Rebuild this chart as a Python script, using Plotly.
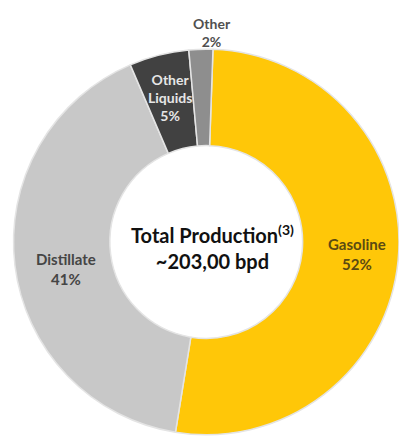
import math
import plotly.graph_objects as go

# Product mix of total refinery production
products = ["Gasoline", "Distillate", "Other<br>Liquids", "Other"]
shares = [52, 41, 5, 2]
colors = ["#FFC708", "#C8C8C8", "#414141", "#8E8E8E"]
text_colors = ["#5B4A12", "#454545", "#E6E6E6", "#505050"]

center_title = "Total Production<sup>(3)</sup>"
center_value = "~203,00 bpd"

W, H = 399, 439
CX, CY, R = 206.5, 242.0, 193.0
START = 2  # degrees clockwise from 12 o'clock

# label placement: radius as a fraction of R, and an angular nudge (deg)
label_radius = [0.78, 0.74, 0.77, 1.085]
label_nudge = [-1, -4, 0, 3]
label_sizes = [15, 15, 14, 14]

fig = go.Figure(
    go.Pie(
        labels=products,
        values=shares,
        hole=0.5,
        sort=False,
        direction="clockwise",
        rotation=START,
        marker=dict(colors=colors, line=dict(color="#E4E4E4", width=1.5)),
        textinfo="none",
        showlegend=False,
        hoverinfo="label+percent",
        domain=dict(x=[(CX - R) / W, 1], y=[1 - (CY + R) / H, 1 - (CY - R) / H]),
    )
)

# slice labels at each slice's mid-angle
total = sum(shares)
cum = 0
for name, v, col, rf, nudge, fs in zip(products, shares, text_colors,
                                       label_radius, label_nudge, label_sizes):
    mid = START + 360 * (cum + v / 2) / total + nudge
    cum += v
    a = math.radians(mid)
    px = CX + rf * R * math.sin(a)
    py = CY - rf * R * math.cos(a)
    fig.add_annotation(
        x=px / W, y=1 - py / H, xref="paper", yref="paper",
        xanchor="center", yanchor="middle",
        text=f"<b>{name}<br>{v}%</b>",
        showarrow=False, align="center",
        font=dict(family="Lato", size=fs, color=col),
    )

fig.add_annotation(
    x=212 / W, y=1 - 247 / H, xref="paper", yref="paper",
    xanchor="center", yanchor="middle",
    text=f"<b>{center_title}<br>{center_value}</b>",
    showarrow=False,
    font=dict(family="Lato", size=20, color="#111111"),
    align="center",
)

fig.update_layout(
    width=W, height=H,
    margin=dict(l=0, r=0, t=0, b=0),
    paper_bgcolor="white",
    plot_bgcolor="white",
)

fig.write_html("out.html")
